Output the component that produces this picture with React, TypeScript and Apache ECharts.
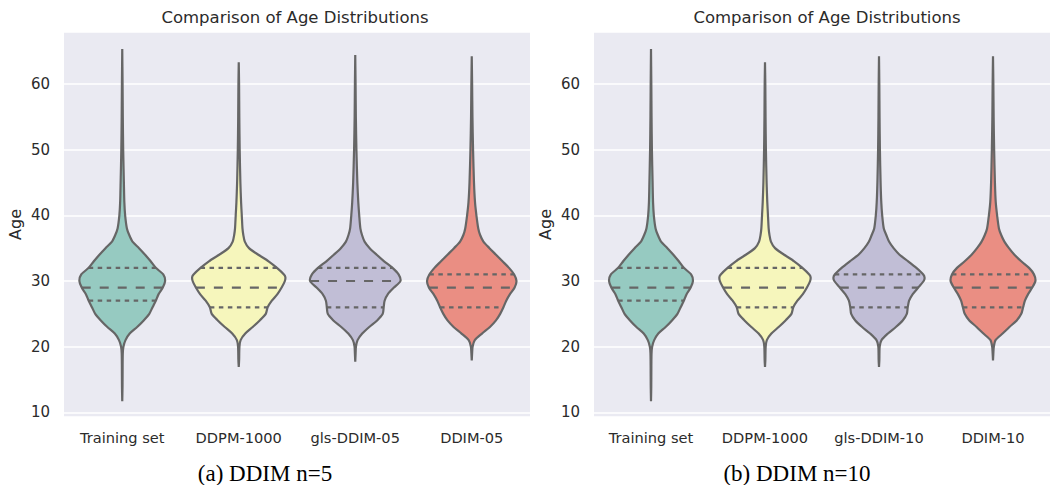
import React, { useEffect, useRef } from "react";
import * as echarts from "echarts";

// Category labels for the two panels
const leftCategories = ["Training set", "DDPM-1000", "gls-DDIM-05", "DDIM-05"];
const rightCategories = ["Training set", "DDPM-1000", "gls-DDIM-10", "DDIM-10"];

// Age KDE outlines: [age, density as % of the widest violin's peak]
const trainingDensity = [
  [11.7, 0], [14, 0.6], [17, 0.8], [19, 1.2], [20, 2.5], [21, 7], [22, 16], [23, 32], [24, 46],
  [25, 58], [26, 65], [27, 72], [28, 78], [29, 87], [30, 92], [31, 88], [32, 72], [33, 61],
  [34, 49], [35, 36], [36, 22], [37, 15], [38, 10], [40, 6.2], [42, 4.5], [45, 3.5], [50, 2],
  [55, 1.2], [60, 0.7], [65.3, 0],
];
const ddpm1000Density = [
  [16.9, 0], [18, 0.8], [20, 1.5], [21, 4], [22, 14], [23, 30], [24, 45], [25, 58], [26, 62],
  [27, 71], [28, 83], [29, 92], [30, 99], [30.6, 100], [31, 97], [32, 82], [33, 64], [34, 42],
  [35, 22], [36, 13], [37, 9.8], [38, 8], [40, 6.5], [42, 5], [45, 3.5], [50, 2], [55, 1.2],
  [60, 0.7], [63.3, 0],
];
const glsDdim05Density = [
  [17.7, 0], [19, 0.8], [20, 1.5], [21, 5], [22, 15], [23, 30], [24, 47], [25, 59], [26, 61],
  [27, 63], [28, 70], [29, 83], [30, 97], [31, 93], [32, 80], [33, 62], [34, 46], [35, 31],
  [36, 20], [37, 14.5], [38, 11], [40, 8.5], [42, 6.5], [45, 4.5], [50, 2.5], [55, 1.3],
  [60, 0.7], [64.4, 0],
];
const ddim05Density = [
  [17.9, 0], [19, 0.8], [20, 1.8], [21, 6.5], [22, 22], [23, 39], [24, 52], [25, 61], [26, 68],
  [27, 74], [28, 82], [29, 92], [30, 96], [31, 91], [32, 80], [33, 66], [34, 52], [35, 38],
  [36, 25], [37, 18], [38, 14], [40, 10], [42, 7], [45, 4.8], [50, 2.8], [55, 1.5], [60, 0.8],
  [64.2, 0],
];
const glsDdim10Density = [
  [16.9, 0], [18, 0.8], [20, 1.5], [21, 5.5], [22, 19.5], [23, 37], [24, 52], [25, 61], [26, 63],
  [27, 66], [28, 74], [29, 86], [30, 98], [30.5, 100], [31, 97], [32, 82], [33, 64], [34, 45],
  [35, 32], [36, 22], [37, 16], [38, 10.5], [40, 7], [42, 5], [45, 3.5], [50, 2], [55, 1.2],
  [60, 0.7], [64.2, 0],
];
const ddim10Density = [
  [17.9, 0], [19, 0.8], [20, 1.8], [21, 5.5], [22, 21], [23, 36], [24, 52], [25, 62], [26, 66],
  [27, 70], [28, 77], [29, 86], [30, 93], [31, 90], [32, 79], [33, 62], [34, 47], [35, 35],
  [36, 25], [37, 18], [38, 13], [40, 9], [42, 6], [45, 4.2], [50, 2.5], [55, 1.4], [60, 0.8],
  [64.2, 0],
];

// Quartiles per violin: [Q1, median, Q3]
const leftQuartiles = [[27, 29, 32], [26, 29, 32], [26, 30, 32], [26, 29, 31]];
const rightQuartiles = [[27, 29, 32], [26, 29, 32], [26, 29, 31], [26, 29, 31]];

const leftProfiles = [trainingDensity, ddpm1000Density, glsDdim05Density, ddim05Density];
const rightProfiles = [trainingDensity, ddpm1000Density, glsDdim10Density, ddim10Density];

// Set3 palette, desaturated to 75% as in seaborn violins
const violinColors = ["#96cac1", "#f6f6bc", "#c1bed6", "#ea8e83"];
const outlineColor = "#666666";
const textColor = "#2b2b2b";

function densityAt(profile: number[][], age: number): number {
  for (let k = 0; k < profile.length - 1; k++) {
    const [a0, d0] = profile[k];
    const [a1, d1] = profile[k + 1];
    if (age >= a0 && age <= a1) {
      const t = (age - a0) / (a1 - a0);
      return d0 + t * (d1 - d0);
    }
  }
  return 0;
}

function makeRenderItem(profiles: number[][][], quartiles: number[][]) {
  return (params: any, api: any) => {
    const i = api.value(0);
    const cx = api.coord([i, 30])[0];
    const band = api.size([1, 0])[0];
    const halfMax = band * 0.4;
    const prof = profiles[i];
    const rightSide = prof.map(([age, d]) => [cx + (d / 100) * halfMax, api.coord([i, age])[1]]);
    const leftSide = prof
      .slice()
      .reverse()
      .map(([age, d]) => [cx - (d / 100) * halfMax, api.coord([i, age])[1]]);
    const children: any[] = [
      {
        type: "polygon",
        shape: { points: rightSide.concat(leftSide), smooth: 0.25 },
        style: { fill: violinColors[i], stroke: outlineColor, lineWidth: 2.2 },
      },
    ];
    quartiles[i].forEach((q, k) => {
      const hw = (densityAt(prof, q) / 100) * halfMax;
      const y = api.coord([i, q])[1];
      children.push({
        type: "line",
        shape: { x1: cx - hw, y1: y, x2: cx + hw, y2: y },
        style: {
          stroke: outlineColor,
          lineWidth: 2.2,
          lineDash: k === 1 ? [9, 9] : [4.5, 4.5],
        },
      });
    });
    return { type: "group", children };
  };
}

function yAxisFor(gridIndex: number) {
  return {
    type: "value",
    gridIndex,
    min: 9.3,
    max: 67.9,
    minInterval: 10,
    maxInterval: 10,
    name: "Age",
    nameLocation: "middle",
    nameGap: 41,
    nameTextStyle: { fontSize: 16, color: textColor },
    axisLine: { show: false },
    axisTick: { show: false },
    axisLabel: { showMinLabel: false, showMaxLabel: false, fontSize: 15, color: textColor, margin: 14 },
    splitLine: { show: true, lineStyle: { color: "#ffffff", width: 1.6 } },
  };
}

function xAxisFor(gridIndex: number, cats: string[]) {
  return {
    type: "category",
    gridIndex,
    data: cats,
    boundaryGap: true,
    axisLine: { show: false },
    axisTick: { show: false },
    axisLabel: { interval: 0, hideOverlap: false, fontSize: 14.6, color: textColor, margin: 13 },
    splitLine: { show: false },
  };
}

export default function App() {
  const ref = useRef<HTMLDivElement>(null);

  useEffect(() => {
    if (!ref.current) return;
    const chart = echarts.init(ref.current, null, { renderer: "svg" });
    chart.setOption({
      animation: false,
      backgroundColor: "#ffffff",
      textStyle: { fontFamily: "DejaVu Sans" },
      grid: [
        { left: 64, right: 520, top: 32, bottom: 68, show: true, backgroundColor: "#eaeaf2", borderWidth: 0 },
        { left: 594, right: -10, top: 32, bottom: 68, show: true, backgroundColor: "#eaeaf2", borderWidth: 0 },
      ],
      xAxis: [xAxisFor(0, leftCategories), xAxisFor(1, rightCategories)],
      yAxis: [yAxisFor(0), yAxisFor(1)],
      series: [
        {
          type: "custom",
          xAxisIndex: 0,
          yAxisIndex: 0,
          renderItem: makeRenderItem(leftProfiles, leftQuartiles),
          data: leftCategories.map((_, i) => [i, leftQuartiles[i][1]]),
          encode: { x: 0, y: 1 },
        },
        {
          type: "custom",
          xAxisIndex: 1,
          yAxisIndex: 1,
          renderItem: makeRenderItem(rightProfiles, rightQuartiles),
          data: rightCategories.map((_, i) => [i, rightQuartiles[i][1]]),
          encode: { x: 0, y: 1 },
        },
      ],
      graphic: [
        {
          type: "text",
          x: 295,
          y: 17,
          style: { text: "Comparison of Age Distributions", align: "center", verticalAlign: "middle", fontSize: 16.5, fill: textColor, fontFamily: "DejaVu Sans" },
        },
        {
          type: "text",
          x: 827,
          y: 17,
          style: { text: "Comparison of Age Distributions", align: "center", verticalAlign: "middle", fontSize: 16.5, fill: textColor, fontFamily: "DejaVu Sans" },
        },
        {
          type: "text",
          x: 265,
          y: 473,
          style: { text: "(a) DDIM n=5", align: "center", verticalAlign: "middle", fontSize: 23, fill: "#000000", fontFamily: "Liberation Serif" },
        },
        {
          type: "text",
          x: 797,
          y: 473,
          style: { text: "(b) DDIM n=10", align: "center", verticalAlign: "middle", fontSize: 23, fill: "#000000", fontFamily: "Liberation Serif" },
        },
      ],
    });
    return () => chart.dispose();
  }, []);

  return <div ref={ref} style={{ position: "fixed", left: 0, top: 0, width: 1050, height: 485 }} />;
}
